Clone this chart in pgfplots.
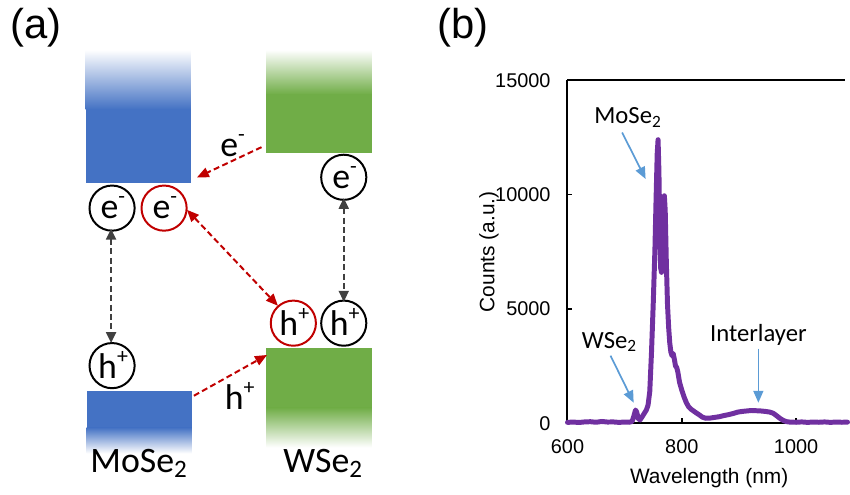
\documentclass[border=0pt]{standalone}
\usepackage{pgfplots}
\pgfplotsset{compat=1.18}
\usepackage{fontspec}
\setmainfont{Carlito}
\newfontfamily\arialfont{Liberation Sans}
\usetikzlibrary{arrows.meta}

\definecolor{moblue}{HTML}{4472C4}
\definecolor{wgreen}{HTML}{70AD47}
\definecolor{xred}{HTML}{C00000}
\definecolor{xgray}{HTML}{404040}
\definecolor{plpurple}{HTML}{7030A0}
\definecolor{annblue}{HTML}{5B9BD5}

% carrier charge as a small raised sign
\newcommand{\chg}[1]{\raisebox{0.42em}{\fontsize{11}{12}\selectfont #1}}

\pgfplotstableread{
wl counts
600 40
610 55
620 35
630 60
640 70
650 45
660 80
670 55
680 60
690 40
700 55
708 45
713 80
716 300
719 580
721 500
724 200
727 150
731 300
735 460
738 580
741 800
744 1400
747 3100
750 5200
753 7600
755 9800
757 11800
758.5 12400
760 11000
761.5 8500
763 6800
764.5 6600
766 7500
768 9200
769.5 9950
771 9300
773 7000
775 5200
777 4200
779 3500
781 3100
783 2950
785 3050
787 2800
789 2500
791 2450
793 2250
796 1800
800 1450
804 1150
808 900
812 720
816 620
820 550
825 460
830 380
836 270
842 220
850 230
858 260
866 290
874 340
882 380
890 430
898 490
906 520
914 540
922 560
930 550
938 540
946 520
954 490
960 440
966 330
972 210
978 120
984 70
990 50
1000 45
1010 60
1020 40
1030 55
1040 45
1050 60
1060 40
1070 55
1080 45
1090 50
}\pltable

\begin{document}
\begin{tikzpicture}
\begin{scope}[x=0.5pt,y=-0.5pt,
  dsh/.style={line width=1pt, dash pattern=on 3pt off 1.7pt},
  ctext/.style={inner sep=0pt, font=\fontsize{18}{20}\selectfont}]
\useasboundingbox (0,0) rectangle (850,496);

% ---------- panel (a): band alignment ----------
\node[font=\arialfont\fontsize{21}{24}\selectfont] at (36,28) {(a)};
\node[font=\arialfont\fontsize{21}{24}\selectfont] at (466,28) {(b)};

% MoSe2 conduction band
\shade[top color=white, bottom color=moblue] (86,50) rectangle (192,110);
\fill[moblue] (86,109.5) rectangle (192,184);
% WSe2 conduction band
\shade[top color=white, bottom color=wgreen] (268,50) rectangle (374,95);
\fill[wgreen] (268,94.5) rectangle (374,154);
% MoSe2 valence band
\fill[moblue] (87,393) rectangle (193,430.5);
\shade[top color=moblue, bottom color=white] (87,430) rectangle (193,456);
% WSe2 valence band
\fill[wgreen] (268,350) rectangle (374,410.5);
\shade[top color=wgreen, bottom color=white] (268,410) rectangle (374,450);

% carriers
\draw[line width=1pt] (112.7,209.3) circle[radius=11.35pt];
\draw[line width=1pt, xred] (165,209.3) circle[radius=11.35pt];
\draw[line width=1pt] (345.7,178.3) circle[radius=11.35pt];
\draw[line width=1pt, xred] (295,325) circle[radius=11.35pt];
\draw[line width=1pt] (345.7,325) circle[radius=11.35pt];
\draw[line width=1pt] (112.7,367.7) circle[radius=11.35pt];
\node[ctext] at (113.5,209.3) {e\chg{-}};
\node[ctext] at (165.8,209.3) {e\chg{-}};
\node[ctext] at (346.5,178.3) {e\chg{-}};
\node[ctext] at (296,324) {h\chg{+}};
\node[ctext] at (346.7,324) {h\chg{+}};
\node[ctext] at (113.7,366.7) {h\chg{+}};

% transfer and recombination paths
\draw[dsh, xred, -{Triangle[length=6pt,width=5pt]}] (263,148) -- (198,178.5);
\draw[dsh, xred, -{Triangle[length=6pt,width=5pt]}] (195,398) -- (268.5,357);
\draw[dsh, xred, {Triangle[length=6pt,width=5pt]}-{Triangle[length=6pt,width=5pt]}] (188,211) -- (279.5,307.5);
\draw[dsh, xgray, {Triangle[length=5.5pt,width=5pt]}-{Triangle[length=5.5pt,width=5pt]}] (111.7,230) -- (111.7,345);
\draw[dsh, xgray, {Triangle[length=5.5pt,width=5pt]}-{Triangle[length=5.5pt,width=5pt]}] (345.7,199) -- (345.7,303.5);

\node[ctext] at (234,146) {e\chg{-}};
\node[ctext] at (241,398) {h\chg{+}};

\node[font=\fontsize{18}{20}\selectfont, anchor=base] at (140,475) {MoSe\textsubscript{2}};
\node[font=\fontsize{18}{20}\selectfont, anchor=base] at (325,475) {WSe\textsubscript{2}};
\end{scope}

% ---------- panel (b): PL spectrum ----------
\begin{axis}[
  at={(285.35pt,-212.85pt)}, anchor=south west,
  scale only axis, width=139.65pt, height=172.5pt,
  xmin=600, xmax=1086, ymin=0, ymax=15000,
  axis x line=box, axis y line=left,
  axis line style={-, line width=1pt, black},
  xtick={600,800,1000}, ytick={0,5000,10000,15000},
  xtick pos=left, ytick pos=left,
  tick align=inside, major tick length=2.5pt,
  tick style={line width=0.8pt, black},
  scaled y ticks=false,
  /pgf/number format/1000 sep={},
  /pgf/number format/assume math mode=true,
  ticklabel style={font=\arialfont\fontsize{10}{12}\selectfont},
  xticklabel style={yshift=-4.5pt},
  yticklabel style={xshift=-5pt},
  xlabel={Wavelength (nm)}, ylabel={Counts (a.u.)},
  label style={font=\arialfont\fontsize{10.5}{12}\selectfont},
  xlabel style={at={(axis description cs:0.51,-0.159)}, anchor=center},
  ylabel style={at={(axis description cs:-0.283,0.5)}, anchor=center},
  clip=false,
]
\addplot[plpurple, line width=2.5pt, line join=round, line cap=round] table[x=wl, y=counts] {\pltable};

\node[anchor=base, font=\fontsize{12.4}{14}\selectfont] at (axis cs:706,13100) {MoSe\textsubscript{2}};
\draw[annblue, line width=0.85pt, -{Triangle[length=6pt,width=5pt]}] (axis cs:695.6,12713) -- (axis cs:736.7,10683);
\node[anchor=base, font=\fontsize{12.4}{14}\selectfont] at (axis cs:673.6,3291) {WSe\textsubscript{2}};
\draw[annblue, line width=0.85pt, -{Triangle[length=6pt,width=5pt]}] (axis cs:675.3,2957) -- (axis cs:715.8,900);
\node[anchor=base, font=\fontsize{12.4}{14}\selectfont] at (axis cs:934,3583) {Interlayer};
\draw[annblue, line width=0.85pt, -{Triangle[length=6pt,width=5pt]}] (axis cs:934,3260) -- (axis cs:934,900);
\end{axis}
\end{tikzpicture}
\end{document}
